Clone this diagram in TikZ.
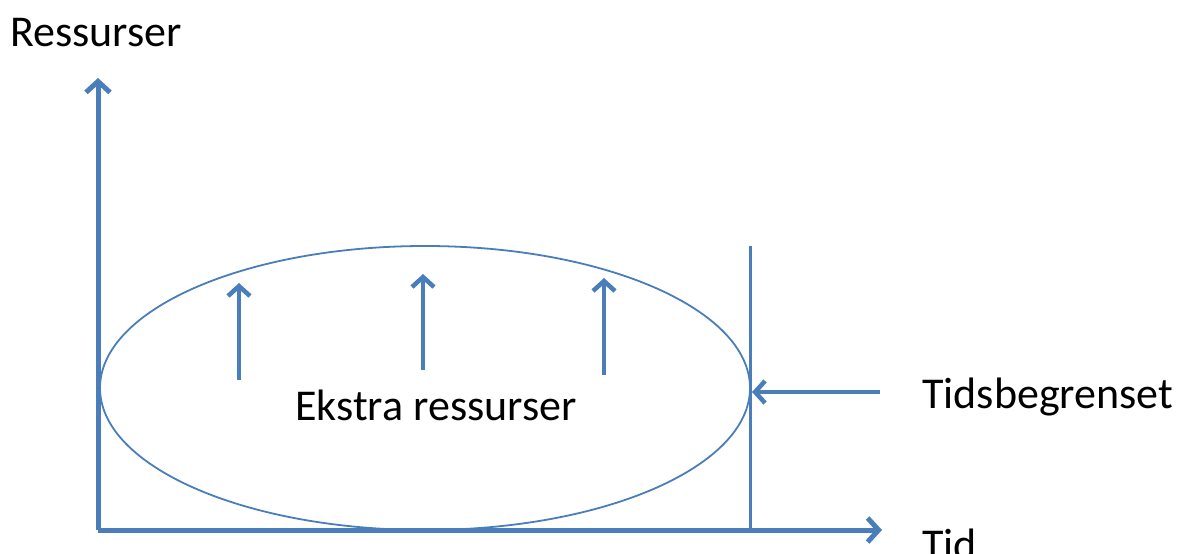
\documentclass[tikz,border=0pt]{standalone}
\usepackage{fontspec}
\setmainfont{Carlito}
\usetikzlibrary{arrows.meta,shapes.geometric}
\definecolor{officeblue}{HTML}{4A7EBB}
\tikzset{
  axis/.style={draw=officeblue, line width=5pt, -{Straight Barb[length=11pt,width=24pt,line width=5pt]}},
  bound/.style={draw=officeblue, line width=3pt},
  push/.style={draw=officeblue, line width=4.5pt, -{Straight Barb[length=10pt,width=22pt,line width=4.5pt]}},
  lbl/.style={font=\fontsize{44}{48}\selectfont, text=black, inner sep=0pt},
}
\begin{document}
\begin{tikzpicture}[x=1pt,y=-1pt]
  \useasboundingbox (0,0) rectangle (1191,554);
  % region of extra resources
  \node[draw=officeblue, line width=1.8pt, ellipse, minimum width=650pt, minimum height=284pt, inner sep=0pt] (region) at (425,388) {};
  % axes
  \coordinate (origin) at (98,530);
  \coordinate (ytip) at (98,78);
  \coordinate (xtip) at (882,530);
  \draw[axis] (origin) -- (ytip);
  \draw[axis] (origin) -- (xtip);
  % time limit line
  \coordinate (limtop) at (750,246);
  \coordinate (limbot) at (750,530);
  \draw[bound] (limbot) -- (limtop);
  % labels
  \node[lbl, anchor=west] (res) at (10,33) {Ressurser};
  \node[lbl, anchor=west] (tid) at (922,544) {Tid};
  \node[lbl, anchor=west] (limit) at (922,397) {Tidsbegrenset};
  \node[lbl] (extra) at (436,405) {Ekstra ressurser};
  % pointer to time limit
  \coordinate (limstart) at (880,392);
  \coordinate (limend) at (752,392);
  \draw[push] (limstart) -- (limend);
  % upward pushes
  \coordinate (p1a) at (239,380); \coordinate (p1b) at (239,283);
  \coordinate (p2a) at (423,370); \coordinate (p2b) at (423,274);
  \coordinate (p3a) at (604,375); \coordinate (p3b) at (604,278);
  \draw[push] (p1a) -- (p1b);
  \draw[push] (p2a) -- (p2b);
  \draw[push] (p3a) -- (p3b);
\end{tikzpicture}
\end{document}
